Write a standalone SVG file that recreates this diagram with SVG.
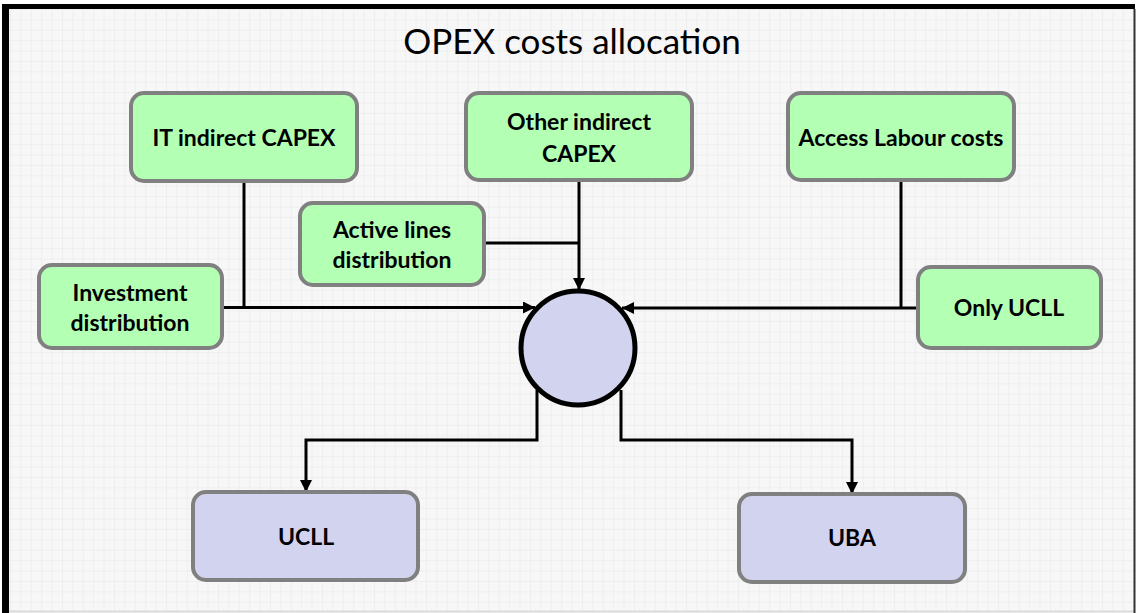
<svg xmlns="http://www.w3.org/2000/svg" width="1136" height="613" viewBox="0 0 1136 613">
  <defs>
    <pattern id="grid" x="10" y="9" width="10.4" height="10.4" patternUnits="userSpaceOnUse">
      <rect width="10.4" height="10.4" fill="#f7f7f7"/>
      <path d="M0 0.5 H10.4 M0.5 0 V10.4" stroke="#eeeeee" stroke-width="1" fill="none"/>
    </pattern>
    <marker id="arrow" viewBox="0 0 12 12" refX="12" refY="6" markerWidth="12" markerHeight="12" markerUnits="userSpaceOnUse" orient="auto">
      <path d="M0 0 L12 6 L0 12 Z" fill="#000"/>
    </marker>
    <style>
      .green { fill: #b3ffb3; stroke: #808080; stroke-width: 4; }
      .purple { fill: #d2d3ef; stroke: #808080; stroke-width: 4; }
      .lbl { font-family: Lato, "Open Sans", "Liberation Sans", sans-serif; font-weight: bold; font-size: 23px; fill: #000; text-anchor: middle; }
      .title { font-family: Lato, "Open Sans", "Liberation Sans", sans-serif; font-size: 35px; fill: #000; text-anchor: middle; }
      .conn { fill: none; stroke: #000; stroke-width: 3; }
    </style>
  </defs>

  <!-- background & frame -->
  <rect x="0" y="0" width="1136" height="613" fill="#ffffff"/>
  <rect x="9" y="9" width="1125" height="602" fill="url(#grid)"/>
  <line x1="9" y1="611.5" x2="1134" y2="611.5" stroke="#d9d9d9" stroke-width="2"/>
  <line x1="1134.5" y1="9" x2="1134.5" y2="613" stroke="#333" stroke-width="2"/>
  <line x1="2" y1="6.5" x2="1135" y2="6.5" stroke="#000" stroke-width="5"/>
  <line x1="5.5" y1="4" x2="5.5" y2="613" stroke="#000" stroke-width="7"/>

  <text class="title" x="572" y="54">OPEX costs allocation</text>

  <!-- connectors -->
  <g id="connectors">
    <path class="conn" d="M244 181 V307"/>
    <path class="conn" d="M222 307.5 H535" marker-end="url(#arrow)"/>
    <path class="conn" d="M484 243 H579"/>
    <path class="conn" d="M579 180 V290" marker-end="url(#arrow)"/>
    <path class="conn" d="M901 180 V308"/>
    <path class="conn" d="M918 308 H622" marker-end="url(#arrow)"/>
    <path class="conn" d="M537 390 V440 H306 V492" marker-end="url(#arrow)"/>
    <path class="conn" d="M621 390 V440 H852 V494" marker-end="url(#arrow)"/>
  </g>

  <g id="node-it-capex">
    <rect class="green" x="131" y="93" width="226" height="88" rx="13"/>
    <text class="lbl" x="244" y="146">IT indirect CAPEX</text>
  </g>
  <g id="node-other-capex">
    <rect class="green" x="466" y="93" width="226" height="87" rx="13"/>
    <text class="lbl" x="579" y="130">Other indirect</text>
    <text class="lbl" x="579" y="162">CAPEX</text>
  </g>
  <g id="node-access-labour">
    <rect class="green" x="788" y="93" width="226" height="87" rx="13"/>
    <text class="lbl" x="901" y="146">Access Labour costs</text>
  </g>
  <g id="node-active-lines">
    <rect class="green" x="300" y="203" width="184" height="82" rx="13"/>
    <text class="lbl" x="392" y="238">Active lines</text>
    <text class="lbl" x="392" y="268">distribution</text>
  </g>
  <g id="node-investment">
    <rect class="green" x="39" y="265" width="183" height="83" rx="13"/>
    <text class="lbl" x="130" y="301">Investment</text>
    <text class="lbl" x="130" y="331">distribution</text>
  </g>
  <g id="node-only-ucll">
    <rect class="green" x="918" y="267" width="183" height="81" rx="13"/>
    <text class="lbl" x="1009" y="316">Only UCLL</text>
  </g>
  <g id="node-hub">
    <circle cx="578" cy="348" r="57" fill="#d2d3ef" stroke="#000" stroke-width="5"/>
  </g>
  <g id="node-ucll">
    <rect class="purple" x="193" y="492" width="225" height="88" rx="13"/>
    <text class="lbl" x="306" y="545">UCLL</text>
  </g>
  <g id="node-uba">
    <rect class="purple" x="739" y="494" width="226" height="88" rx="13"/>
    <text class="lbl" x="852" y="546">UBA</text>
  </g>
</svg>
